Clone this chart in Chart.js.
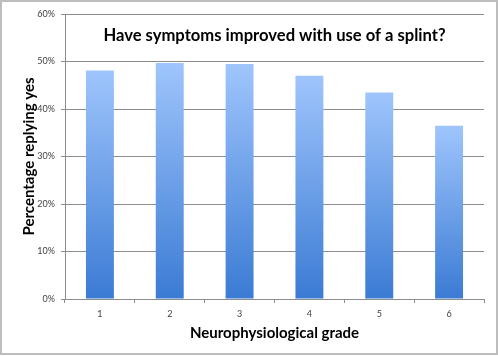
<!DOCTYPE html>
<html>
<head>
<meta charset="utf-8">
<script src="https://cdn.jsdelivr.net/npm/chart.js@4"></script>
<style>
  html, body { margin: 0; padding: 0; background: #fff; }
  #wrap { position: relative; width: 498px; height: 356px; }
  canvas { display: block; }
</style>
</head>
<body>
<div id="wrap"><canvas id="c" width="498" height="356"></canvas></div>
<script>
const grades = ['1', '2', '3', '4', '5', '6'];
const percentYes = [48.1, 49.7, 49.5, 47.0, 43.5, 36.5];
const yTicks = [0, 10, 20, 30, 40, 50, 60];
const chartTitle = 'Have symptoms improved with use of a splint?';
const xTitle = 'Neurophysiological grade';
const yTitle = 'Percentage replying yes';

const FONT = 'Lato, "Open Sans", sans-serif';
const GRID = '#8c8c8c';

function barGradient(ctx) {
  const chart = ctx.chart;
  const y = chart.scales && chart.scales.y;
  if (!chart.chartArea || !y || ctx.raw === undefined) return '#6a9fe8';
  const top = y.getPixelForValue(ctx.raw);
  const bottom = y.getPixelForValue(0);
  const g = chart.ctx.createLinearGradient(0, top, 0, bottom);
  g.addColorStop(0, '#9fc5fc');
  g.addColorStop(1, '#3b7bd4');
  return g;
}

const insideTitle = {
  id: 'insideTitle',
  afterDraw(chart) {
    const { ctx, chartArea } = chart;
    ctx.save();
    ctx.font = 'bold 16.6px ' + FONT;
    ctx.fillStyle = '#000';
    ctx.textAlign = 'center';
    ctx.textBaseline = 'middle';
    ctx.fillText(chartTitle, (chartArea.left + chartArea.right) / 2, 36);
    ctx.restore();
  }
};

const frame = {
  id: 'frame',
  afterDraw(chart) {
    const ctx = chart.ctx;
    ctx.save();
    ctx.strokeStyle = '#bdbdbd';
    ctx.lineWidth = 2;
    ctx.strokeRect(1, 1, 496, 353);
    ctx.restore();
  }
};

new Chart(document.getElementById('c'), {
  type: 'bar',
  data: {
    labels: grades,
    datasets: [{
      data: percentYes,
      backgroundColor: barGradient,
      borderWidth: 0,
      barPercentage: 0.4,
      categoryPercentage: 1.0
    }]
  },
  options: {
    responsive: false,
    animation: false,
    devicePixelRatio: 1,
    layout: { padding: { top: 14, right: 14, left: 0, bottom: 0 } },
    plugins: { legend: { display: false }, tooltip: { enabled: false } },
    scales: {
      x: {
        afterFit(s) { s.height = 57; },
        grid: { offset: true, drawOnChartArea: false, color: GRID, tickLength: 4 },
        border: { color: GRID },
        ticks: { color: '#404040', font: { family: FONT, size: 9 }, padding: 6 },
        title: { display: true, text: xTitle, color: '#000',
                 font: { family: FONT, size: 15, weight: 'bold' },
                 padding: { top: 0, bottom: 14 } }
      },
      y: {
        min: 0, max: 60,
        afterFit(s) { s.width = 65; },
        afterBuildTicks(s) { s.ticks = yTicks.map(v => ({ value: v })); },
        grid: { color: GRID, tickLength: 4 },
        border: { color: GRID },
        ticks: { color: '#404040', font: { family: FONT, size: 9 }, padding: 6,
                 callback: v => v + '%' },
        title: { display: true, text: yTitle, color: '#000',
                 font: { family: FONT, size: 15, weight: 'bold' },
                 padding: { top: 20, bottom: 0 } }
      }
    }
  },
  plugins: [insideTitle, frame]
});
</script>
</body>
</html>
